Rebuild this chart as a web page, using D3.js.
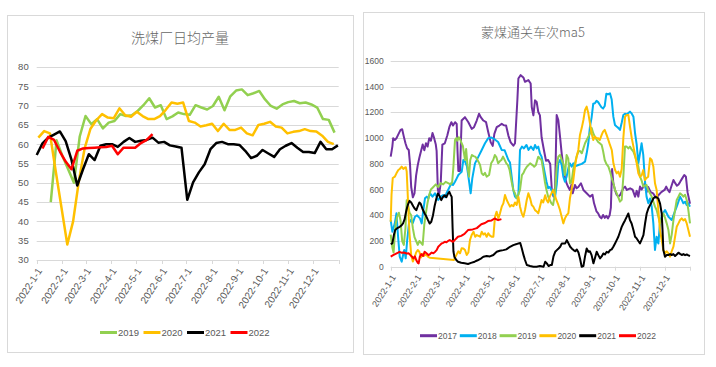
<!DOCTYPE html>
<html>
<head>
<meta charset="utf-8">
<script src="https://cdn.jsdelivr.net/npm/d3@7"></script>
<style>
body { margin: 0; background: #fff; }
svg { display: block; font-family: "Liberation Sans Narrow", "Liberation Sans", Arial, sans-serif; }
</style>
</head>
<body>
<svg id="chart" width="716" height="367"></svg>
<script>
// ---------- left: 洗煤厂日均产量 (weekly) ----------
const washYears = ["2019", "2020", "2021", "2022"];
const washStart = ["2022-01-18", "2022-01-03", "2022-01-01", "2022-01-08"];
const wash2019 = [45, 61, 57, 53.5, 50, 62, 67.3, 65.2, 66.5, 64.1, 65.6, 66, 67.8, 67.3, 67.5, 68.6, 70.1, 71.9, 69.5, 70.1,
  66.5, 67.2, 68.2, 67.8, 67.6, 70.1, 69.5, 69, 69.9, 72.3, 68.8, 72.4, 73.9, 74.2, 72.7, 73.2, 73.8, 71.6, 69.9, 69.2,
  70.3, 70.9, 71.2, 70.6, 70.8, 70.3, 69.5, 66.5, 66.3, 63];
const wash2020 = [61.7, 63.4, 62.8, 53, 43.5, 34, 40, 50.5, 59, 64, 66.2, 67.8, 66.9, 66.7, 69.3, 67.5, 67.1, 68.4, 67.3, 66.5,
  66.5, 67.3, 68.9, 70.8, 70.5, 70.8, 66, 65.6, 64.6, 64.9, 65.3, 63.4, 65.3, 63.7, 63.7, 64.3, 62.8, 62.3, 65, 65.3,
  65.8, 64.6, 64.3, 62.8, 63.2, 63.4, 63.9, 63.4, 63.3, 62.2, 60.6, 60];
const wash2021 = [57.2, 60.2, 61.7, 62.5, 63.3, 60.8, 56, 49.3, 53.5, 57.4, 55.9, 59.6, 60, 60, 59.3, 60.6, 61.6, 60.6, 60.9, 61.1,
  61.7, 60.4, 60.6, 59.7, 59.4, 59.1, 45.6, 50.1, 52.7, 54.8, 58.7, 60.3, 60.6, 60, 60, 59.8, 58.3, 56.4, 57, 58.5,
  57.6, 56.7, 58.7, 59.6, 60.3, 59.1, 58, 58, 57.7, 60.6, 58.7, 58.7, 59.7];
const wash2022 = [58.9, 61.9, 61.1, 58.1, 55.5, 53.5, 58.3, 58.9, 59, 59.1, 59.2, 59.3, 59.6, 57.4, 59.1, 59.1, 59.1, 60.3, 61.1, 62.6];
const washTicks = [30, 35, 40, 45, 50, 55, 60, 65, 70, 75, 80];

// ---------- right: 蒙煤通关车次ma5 ([day of year, value]) ----------
const mnYears = ["2017", "2018", "2019", "2020", "2021", "2022"];
const mn2017 = [[0,856],[2,934],[3,999],[5,986],[7,999],[9,1025],[12,1064],[14,1069],[16,1012],[18,960],[20,921],[22,908],[23.5,804],[25,620],[27,540],[29,570],[31,710],[33,790],[35,850],[37,900],[39,950],[41,905],[43,960],[45,935],[47,1000],[49,980],[51,1040],[53,1000],[55,950],[56,900],[57.5,600],[59,560],[61,650],[63,950],[66,960],[69,1020],[71.5,1085],[74,1124],[76,1098],[78.5,1124],[80.5,1110],[81.5,900],[82.5,745],[84.5,745],[86.5,1137],[90.6,1163],[94.7,1124],[98.8,1072],[101.6,1085],[104.9,1137],[107.7,1190],[109.8,1163],[113,1137],[116.3,1124],[119,1046],[122,967],[124.4,940],[126.4,1033],[129.3,1085],[132.5,1098],[135.4,1111],[138,1100],[140.7,1098],[143.5,1020],[146.3,967],[149.6,941],[151.6,960],[154.5,1300],[155.7,1464],[158.5,1490],[161.8,1472],[163.8,1438],[167.9,1451],[170.7,1425],[172,1242],[174,1177],[176,1294],[178,1281],[180,1203],[182,1177],[184,1007],[187,902],[189.4,824],[192,830],[194.5,800],[196.5,600],[198.5,545],[200.5,620],[202.4,1180],[204.4,1141],[206.5,1012],[208.5,882],[210.5,778],[212.5,700],[214.5,648],[216.5,620],[218.5,597],[220.5,640],[222,571],[224.7,636],[226.7,610],[228.8,620],[232,649],[235,597],[239,571],[243,545],[246,560],[248,493],[251,430],[253,415],[255,389],[257,376],[259,402],[261,380],[263,395],[265,376],[267,400],[268.5,460],[270,760],[271.5,650],[273.5,597],[275.5,560],[277.6,545],[280,560],[283.7,610],[285.8,623],[288,597],[292,610],[295,600],[298,545],[300,590],[302,545],[304,623],[306,600],[308,620],[310,649],[312,580],[314,620],[317,580],[320,570],[324,532],[327,560],[330,580],[334,597],[336,623],[338,597],[340,580],[342,620],[344.8,674],[347,650],[349,630],[351,640],[353,660],[355.5,687],[358,713],[360,700],[362,580],[365,490]];
const mn2018 = [[0,363],[2,272],[5,337],[7,415],[9,233],[11,78],[13.4,39],[15.5,104],[16.5,130],[18.3,65],[20,200],[22.3,337],[24.3,363],[27,340],[29.6,389],[32,400],[35.7,376],[37.8,337],[39.8,441],[41.8,532],[44,545],[46,530],[48,571],[51,545],[54,571],[56,545],[58,519],[61,545],[64,558],[66,540],[68,571],[70,597],[72,623],[74,649],[76,635],[78.4,661],[80.5,687],[82.5,713],[84.5,726],[86.6,739],[88.6,830],[90.6,820],[93,780],[95.9,649],[97.5,571],[99.5,687],[102.8,804],[107,856],[111,908],[115,960],[119,1000],[123,1005],[127,990],[131,970],[135.3,908],[139,905],[143.5,830],[145.5,810],[147.5,700],[149.5,597],[151.6,545],[153.6,532],[155.7,560],[157.7,908],[160,934],[162.5,920],[165.6,947],[168,908],[171,934],[174,908],[176,947],[178,920],[180,934],[182,880],[184,856],[186,791],[188,726],[190,661],[192,610],[194,620],[196,597],[198.2,558],[200.5,545],[202.5,640],[204.4,804],[206.5,830],[208.5,791],[210.5,700],[212.5,661],[214.5,700],[216.6,765],[218.6,804],[220.6,778],[222.7,804],[224.7,780],[228.8,791],[233,800],[237,817],[239,882],[241,960],[243,1090],[245,1160],[247,1268],[249,1271],[251,1290],[253,1280],[255,1260],[257,1240],[259,1230],[261,1250],[263,1346],[265,1340],[267.4,1349],[269.5,1300],[271.5,1167],[273.5,1102],[275.5,1090],[277.5,1080],[279.6,1064],[281.7,1120],[283.7,1180],[285.7,1190],[287.7,1185],[289.8,1195],[291.8,1206],[294,1190],[296,1167],[298,1038],[300,950],[302,804],[304,882],[306,960],[308,870],[310,674],[312,545],[314.2,493],[316.3,530],[318.3,467],[320.3,337],[322.3,130],[324.3,233],[326.4,180],[328.4,337],[330.5,390],[332.5,420],[334.6,441],[338.7,389],[342.7,363],[344.8,400],[348.8,467],[350.9,506],[352.9,545],[355,520],[356.9,493],[359,505],[361,480],[363,493],[365,467]];
const mn2019 = [[0,250],[2,150],[3.5,110],[6,330],[8,390],[10,420],[12,360],[14,200],[16,170],[18,300],[19.5,517],[21,480],[23,420],[25,400],[27,300],[29,230],[31,200],[33,170],[35,200],[37,185],[39,170],[41,330],[43,420],[45,500],[47,560],[49,600],[52,620],[55,640],[58,620],[61,650],[64,640],[67,660],[70,650],[73,640],[75,660],[76.5,780],[78.4,985],[80,1000],[81.3,980],[83,1007],[85,986],[86.5,960],[88,940],[90.6,830],[92,915],[94,760],[95.5,700],[97,830],[99,869],[101,860],[103,856],[105,840],[107,817],[109,791],[111,726],[113,713],[115,730],[117,700],[120,713],[122.5,804],[125,830],[127,869],[129,850],[131,804],[133,820],[135,830],[137,856],[139,830],[141,804],[143,790],[145,752],[147.5,661],[149.5,597],[151.6,571],[153.6,532],[155.6,560],[157.7,597],[160,713],[162,730],[163.5,752],[166,778],[170,804],[173,790],[175,778],[177,790],[180,856],[182,840],[184,830],[186,752],[188,661],[190,597],[192,545],[194,519],[196,493],[198,480],[200.4,571],[202.4,778],[204.4,856],[206.5,870],[208.5,830],[210.5,800],[212.5,713],[214.5,869],[216.6,840],[218.6,649],[220.6,660],[222.7,760],[224.7,804],[226.7,856],[228.8,895],[231,900],[233,882],[235,920],[237,960],[239,986],[241,1012],[243,1038],[245,1080],[247,1038],[249,1010],[251,990],[253,970],[255,960],[257.3,947],[259,900],[261,830],[263,800],[265.5,778],[267.5,740],[269.6,687],[271.6,649],[273.6,597],[275.6,571],[277.6,540],[279.6,506],[281.7,520],[283.7,700],[285.7,934],[287.7,934],[289.8,920],[291.8,934],[294,910],[296,895],[298,860],[300,817],[302,780],[304.1,700],[306,670],[308,623],[310,630],[312,636],[314,597],[316.3,570],[318.3,545],[320.3,506],[322.3,467],[324.3,441],[326.4,389],[328.4,337],[330.5,380],[332.5,415],[334.6,380],[336.6,337],[338.7,285],[340.7,181],[342.7,250],[344.8,363],[346.8,441],[348.8,519],[350.9,545],[352.9,571],[354.9,560],[356.9,545],[359,560],[361,519],[363,441],[365,337]];
const mn2020 = [[0,350],[1,560],[2.5,690],[5,700],[7,726],[9.3,752],[11,760],[13.4,778],[15.4,760],[17,770],[18.5,773],[19.5,740],[20.5,600],[21.5,450],[23,250],[25,90],[27,40],[29,70],[31,110],[33,130],[35,115],[37,72],[39,100],[41,85],[43,95],[46,75],[48,70],[77,52],[80,90],[82.5,120],[84.5,104],[86.5,143],[88.6,142],[90.6,130],[92.7,91],[94.7,110],[96.7,208],[98.7,246],[101,272],[103,233],[105,246],[107,240],[109,233],[111,272],[113,250],[115,259],[117,233],[119,260],[121.4,240],[123.5,233],[125.2,233],[127.2,389],[129.2,428],[131.3,376],[133.3,415],[135.4,467],[137.4,493],[139.4,558],[141.5,519],[143.5,493],[145.5,467],[147.5,480],[149.6,470],[151.6,500],[153.6,480],[155.8,543],[157.7,467],[159.8,415],[161.8,389],[163.8,441],[165.9,519],[167.9,571],[170,532],[172,480],[173.9,467],[176,440],[178,430],[180,415],[182,467],[184,519],[186,500],[188.4,556],[190,520],[192,500],[194,545],[196,570],[198,597],[200,560],[202,519],[204.4,480],[206.5,440],[208.5,389],[210.5,337],[212.5,376],[214.5,400],[216.6,415],[218.6,532],[220.6,600],[222.7,674],[224.7,778],[226.7,856],[228.8,908],[230.8,1025],[233,1080],[235,1141],[237,1219],[239,1245],[241,1193],[243,1115],[245,1038],[247,986],[249,1012],[251,1000],[253,999],[255,986],[257.3,1025],[259,1051],[261,1064],[263.3,1025],[265.4,986],[267.4,947],[269.6,908],[271.6,804],[273.6,752],[275.6,726],[277.6,740],[279.6,700],[281.7,760],[283.7,1000],[285.8,1167],[287.8,1180],[289.8,1180],[291.8,1090],[294,999],[296,934],[298,870],[300,804],[302,726],[304,700],[306,710],[308,752],[310,674],[312,690],[314,700],[316.3,843],[318.3,830],[320.3,780],[322.3,649],[324.3,597],[326.4,441],[328.4,285],[330.5,208],[332.5,130],[334.6,104],[336.6,120],[338.7,104],[340.7,78],[342.7,120],[344.8,156],[346.8,233],[348.8,311],[350.9,337],[352.9,363],[354.9,376],[356.9,360],[359,370],[361,337],[363,285],[365,233]];
const mn2021 = [[0,175],[2,181],[4,250],[5.5,285],[8,300],[11,310],[13.4,323],[15,336],[17,370],[18.5,420],[20,460],[21.5,491],[23,512],[25,500],[27.5,470],[29.5,450],[31.3,440],[33,470],[35,500],[36.5,490],[38.6,453],[41.4,414],[43.5,390],[45.5,362],[47.5,336],[49.5,350],[51.6,401],[53.5,470],[55.7,531],[57.5,569],[59.5,550],[61.7,518],[63.5,540],[65.8,556],[67.8,540],[69.9,569],[71.5,582],[73,560],[74.4,543],[75.5,300],[76.5,120],[77.6,78],[80,52],[82.1,39],[86,31],[90.2,26],[94.3,21],[98,30],[102.4,39],[106,50],[110.5,65],[113,78],[117,83],[121,80],[125.2,91],[129.3,116],[133,124],[137.4,129],[141,135],[145.5,155],[149.5,168],[153.6,176],[155.7,181],[158,185],[160,140],[162,90],[163.8,52],[166,13],[170,5],[174,0],[178,0],[182,5],[186.4,0],[188.4,39],[190.4,26],[192.5,5],[194.5,13],[196.5,13],[198.5,80],[200.6,116],[202.6,129],[204.7,142],[206.7,155],[208.7,181],[210.8,181],[212.8,181],[214.8,207],[216.9,181],[218.9,155],[221,140],[223,129],[225,120],[227,134],[229,110],[231,60],[232.9,0],[235,5],[237,80],[239,142],[241,116],[243,120],[245,90],[247.2,26],[249.2,70],[251.2,116],[253.2,90],[255.3,65],[257.3,80],[259.3,103],[261.3,95],[263.4,116],[265.4,110],[267.5,129],[269.5,135],[271.5,155],[273.6,181],[275.6,207],[277.6,233],[279.7,272],[281.7,310],[283.7,336],[285.7,360],[287.8,388],[289.8,414],[291.8,362],[293.8,336],[296,285],[298,233],[300,220],[302,200],[304,181],[306,210],[308.2,246],[310.2,336],[312.2,414],[314.2,453],[316.3,479],[318.3,504],[320.3,530],[322.3,543],[324.4,540],[326.4,530],[328.5,491],[330.5,414],[331.5,285],[332.5,129],[334.5,78],[336.6,91],[338.7,91],[340.7,98],[342.7,91],[344.7,98],[346.8,83],[348.8,95],[350.9,109],[352.9,100],[355,91],[357,98],[359,90],[361,95],[363,88],[365,83]];
const mn2022 = [[0,78],[3,90],[6,100],[9,110],[10.6,116],[13,109],[16,110],[19.5,103],[22,104],[24,90],[26,78],[27.6,65],[29.5,80],[31.3,50],[33,30],[34.1,26],[35.5,78],[37.4,98],[39.5,83],[41.4,117],[44,103],[46,90],[48,98],[50,110],[52,105],[54,115],[56,129],[58,155],[60,168],[62,181],[64,185],[66,194],[68,190],[70,200],[72,207],[74,200],[76,194],[78,207],[82,233],[86,240],[90,255],[94.3,285],[100,290],[105,300],[110.5,330],[115,340],[118.6,355],[123,360],[126.7,375],[131,362],[135,370]];
const mnTicks = [0, 200, 400, 600, 800, 1000, 1200, 1400, 1600];

const monthLabels = ["2022-1-1", "2022-2-1", "2022-3-1", "2022-4-1", "2022-5-1", "2022-6-1",
  "2022-7-1", "2022-8-1", "2022-9-1", "2022-10-1", "2022-11-1", "2022-12-1"];

const parse = d3.timeParse("%Y-%m-%d");
const jan1 = new Date(2022, 0, 1);
const dayToDate = d => new Date(jan1.getTime() + d * 864e5);
const months = d3.timeMonth.range(jan1, new Date(2023, 0, 2));

const svg = d3.select("#chart");
const grey = "#595959", gridC = "#d9d9d9";

function panel(cfg) {
  const g = svg.append("g");
  g.append("rect")
    .attr("x", cfg.box[0] + 0.5).attr("y", cfg.box[1] + 0.5)
    .attr("width", cfg.box[2]).attr("height", cfg.box[3])
    .attr("fill", "#fff").attr("stroke", gridC);

  g.append("text")
    .attr("x", cfg.titleX).attr("y", cfg.titleY)
    .attr("text-anchor", "middle")
    .attr("fill", "#666")
    .style("font-family", "'Noto Sans CJK SC', sans-serif")
    .style("font-weight", 300)
    .style("font-size", cfg.titleSize + "px")
    .text(cfg.title);

  const x = d3.scaleTime().domain([jan1, new Date(2023, 0, 1)]).range([cfg.left, cfg.right]);
  const y = d3.scaleLinear().domain(d3.extent(cfg.yTicks)).range([cfg.bottom, cfg.top]);

  // grid + y labels
  g.append("g").selectAll("line").data(cfg.yTicks).join("line")
    .attr("x1", cfg.left).attr("x2", cfg.right)
    .attr("y1", d => Math.round(y(d)) + 0.5).attr("y2", d => Math.round(y(d)) + 0.5)
    .attr("stroke", gridC).attr("stroke-width", 1);
  g.append("g").selectAll("text").data(cfg.yTicks).join("text")
    .attr("x", cfg.left - cfg.yLabelGap).attr("y", d => y(d))
    .attr("dy", "0.35em")
    .attr("text-anchor", "end")
    .attr("fill", grey)
    .style("font-size", cfg.yFont + "px")
    .text(d => d);

  // x ticks + labels
  g.append("g").selectAll("line").data(months).join("line")
    .attr("x1", d => Math.round(x(d)) + 0.5).attr("x2", d => Math.round(x(d)) + 0.5)
    .attr("y1", cfg.bottom).attr("y2", cfg.bottom + 4)
    .attr("stroke", gridC);
  g.append("g").selectAll("text").data(months.slice(0, 12)).join("text")
    .attr("transform", d => `translate(${x(d) + 3},${cfg.bottom + 9}) rotate(-57)`)
    .attr("text-anchor", "end")
    .attr("dy", "0.35em")
    .attr("fill", grey)
    .style("font-size", cfg.xFont + "px")
    .text((d, i) => monthLabels[i]);

  // series
  const line = d3.line().x(d => x(d[0])).y(d => y(d[1]));
  cfg.series.forEach(s => {
    g.append("path")
      .datum(s.pts)
      .attr("fill", "none")
      .attr("stroke", s.color)
      .attr("stroke-width", cfg.lineW)
      .attr("stroke-linejoin", "round")
      .attr("d", line);
  });

  // legend
  const lg = g.append("g");
  cfg.series.forEach((s, i) => {
    const lx = cfg.legX + i * cfg.legStep;
    lg.append("line")
      .attr("x1", lx).attr("x2", lx + 17)
      .attr("y1", cfg.legY).attr("y2", cfg.legY)
      .attr("stroke", s.color).attr("stroke-width", 3);
    lg.append("text")
      .attr("x", lx + 18).attr("y", cfg.legY)
      .attr("dy", "0.35em")
      .attr("fill", grey)
      .style("font-size", cfg.legFont + "px")
      .text(s.name);
  });
}

const weekly = (start, vals) => vals.map((v, i) => [d3.timeDay.offset(parse(start), i * 7), v]);
const washVals = [wash2019, wash2020, wash2021, wash2022];
const washColors = ["#92d050", "#ffc000", "#000000", "#ff0000"];

panel({
  box: [7, 15, 346, 337],
  title: "洗煤厂日均产量", titleX: 180, titleY: 43, titleSize: 14,
  left: 36.7, right: 338.7, top: 67, bottom: 260,
  yTicks: washTicks, yLabelGap: 8, yFont: 9.5, xFont: 10,
  lineW: 2.5,
  series: washYears.map((n, i) => ({ name: n, color: washColors[i], pts: weekly(washStart[i], washVals[i]) })),
  legX: 100, legStep: 43.5, legY: 332.5, legFont: 9.5
});

const mnVals = [mn2017, mn2018, mn2019, mn2020, mn2021, mn2022];
const mnColors = ["#7030a0", "#00b0f0", "#92d050", "#ffc000", "#000000", "#ff0000"];

panel({
  box: [363, 12, 341, 342],
  title: "蒙煤通关车次ma5", titleX: 533, titleY: 37, titleSize: 13,
  left: 390.7, right: 690, top: 61, bottom: 266.7,
  yTicks: mnTicks, yLabelGap: 7, yFont: 8.5, xFont: 9,
  lineW: 2,
  series: mnYears.map((n, i) => ({ name: n, color: mnColors[i], pts: mnVals[i].map(p => [dayToDate(p[0]), p[1]]) })),
  legX: 420, legStep: 39.8, legY: 335.7, legFont: 8.5
});
</script>
</body>
</html>
